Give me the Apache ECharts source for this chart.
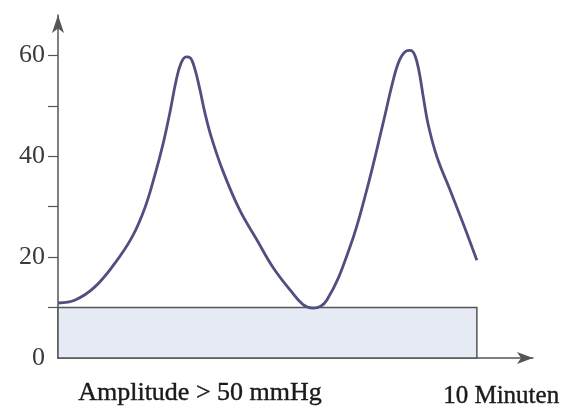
<!DOCTYPE html>
<html>
<head>
<meta charset="utf-8">
<script src="https://cdn.jsdelivr.net/npm/echarts@6/dist/echarts.min.js"></script>
<style>html,body{margin:0;padding:0;background:#fff}#c{width:569px;height:412px}</style>
</head>
<body>
<div id="c"></div>
<script>
// time in minutes
var timeMin = [0.0, 0.41, 0.88, 1.36, 1.77, 2.08, 2.32, 2.51, 2.68, 2.82, 2.94, 3.06, 3.16, 3.26, 3.38, 3.51, 3.66, 3.94, 4.34, 4.75, 5.13, 5.54, 5.85, 6.09, 6.42, 6.97, 7.37, 7.76, 8.00, 8.15, 8.30, 8.41, 8.52, 8.62, 8.72, 8.84, 9.05, 9.36, 9.67, 10.0];
// pressure in mmHg
var pressure = [10.9, 11.5, 14.1, 18.8, 24.0, 29.9, 36.5, 42.5, 49.0, 55.0, 58.5, 59.7, 59.5, 57.5, 53.5, 48.5, 43.8, 37.0, 29.3, 23.4, 18.0, 13.5, 10.6, 9.9, 11.5, 22.0, 33.3, 46.5, 55.0, 59.0, 60.8, 61.0, 60.0, 56.8, 51.8, 46.2, 39.8, 33.3, 26.7, 19.4];
var yTickLabels = [0, 20, 40, 60];
var yTicks = [10, 20, 30, 40, 50, 60];
var band = { x0: 0, x1: 10, y0: 0, y1: 10 };
var bottomLabel = 'Amplitude > 50 mmHg';
var endLabel = '10 Minuten';

var pts = timeMin.map(function (t, i) { return [t, pressure[i]]; });
var chart = echarts.init(document.getElementById('c'));
var serif = '"Liberation Serif", "DejaVu Serif", serif';
chart.setOption({
  animation: false,
  grid: { left: 58, right: 36, top: 15, bottom: 54 },
  xAxis: {
    type: 'value', min: 0, max: 11.34,
    axisLine: { show: true, symbol: ['none', 'arrow'], symbolSize: [9, 16], lineStyle: { color: '#555', width: 1.5 } },
    axisTick: { show: false }, axisLabel: { show: false }, splitLine: { show: false }
  },
  yAxis: {
    type: 'value', min: 0, max: 68,
    axisLine: { show: true, symbol: ['none', 'arrow'], symbolSize: [9, 18], lineStyle: { color: '#555', width: 1.5 } },
    axisTick: { show: true, length: 10, customValues: yTicks, lineStyle: { color: '#555', width: 1.2 } },
    axisLabel: { show: true, customValues: yTickLabels, margin: 13, fontFamily: serif, fontSize: 26, color: '#3a3a3a' },
    splitLine: { show: false }
  },
  series: [{
    type: 'line', data: pts, smooth: 0.4, showSymbol: false, symbol: 'none',
    lineStyle: { color: '#504f80', width: 2.8 },
    markArea: {
      silent: true,
      itemStyle: { color: '#e5eaf5', borderColor: '#555', borderWidth: 1.5 },
      data: [[{ coord: [band.x0, band.y0] }, { coord: [band.x1, band.y1] }]]
    },
    z: 3
  }],
  graphic: [
    { type: 'text', left: 78, top: 380, style: { text: bottomLabel, font: '26px ' + serif, fill: '#1a1a1a', stroke: '#1a1a1a', lineWidth: 0.4 } },
    { type: 'text', left: 443, top: 384, style: { text: endLabel, font: '25px ' + serif, fill: '#1a1a1a', stroke: '#1a1a1a', lineWidth: 0.4 } }
  ]
});
</script>
</body>
</html>
